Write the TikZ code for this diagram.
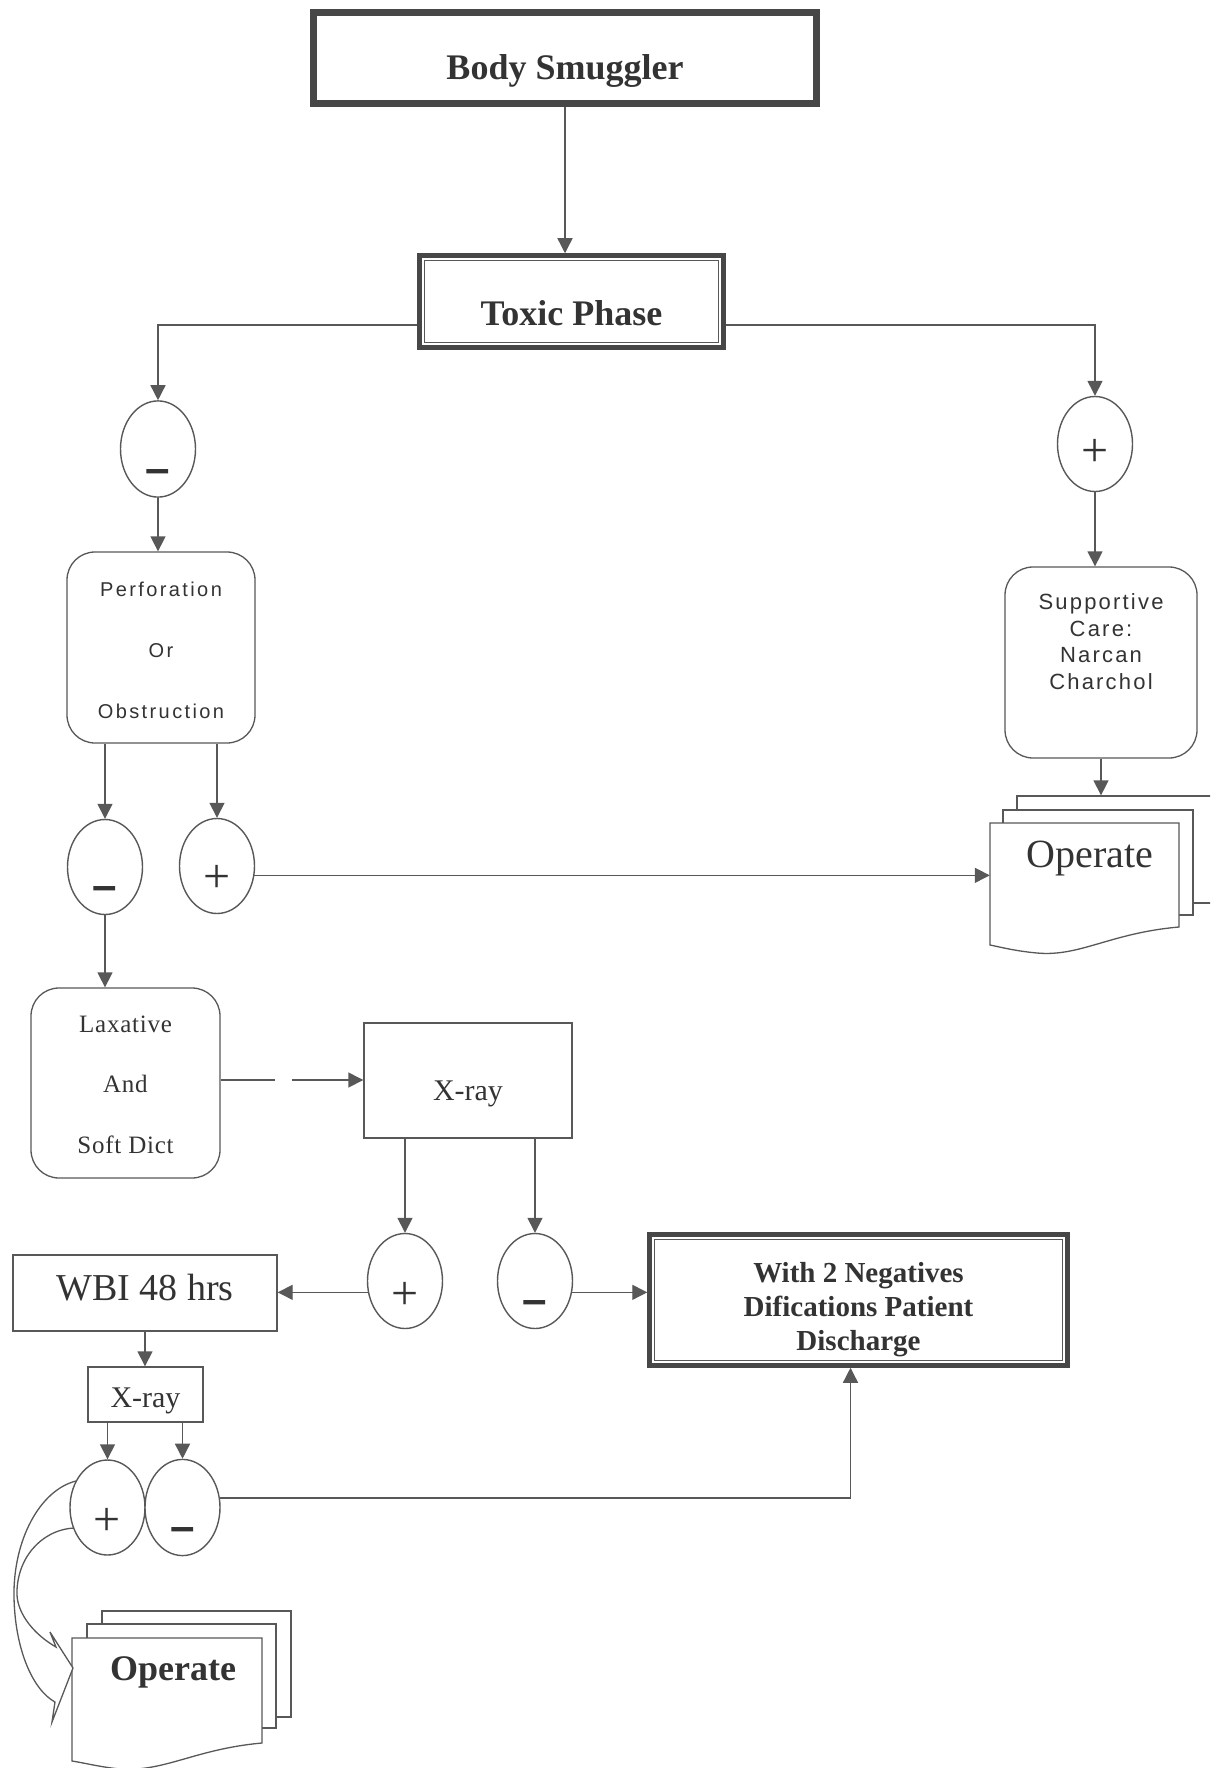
\documentclass[tikz,border=0pt]{standalone}
\usepackage{fontspec}
\setmainfont{Liberation Serif}
\newfontfamily\sfsp[LetterSpace=12]{Liberation Sans}
\newfontfamily\sfsq[LetterSpace=10]{Liberation Sans}
\newfontfamily\rmsp[LetterSpace=3]{Liberation Serif}
\newfontfamily\sgnfont{Liberation Sans}
\usetikzlibrary{arrows.meta,shapes.geometric}
\definecolor{ink}{HTML}{333333}
\definecolor{ln}{HTML}{585858}
\definecolor{frame}{HTML}{474747}
\begin{document}
\begin{tikzpicture}[x=1pt,y=-1pt,
  ln/.style={draw=ln, line width=1.4pt},
  arr/.style={ln, -{Triangle[width=15pt,length=15pt]}},
  ell/.style={ellipse, draw=ln, line width=1.4pt, fill=white, minimum width=75pt, minimum height=95pt, inner sep=0pt, text=ink, text depth=0pt},
  pl/.style={ell, font=\fontsize{48}{48}\selectfont},
  mi/.style={ell, font=\sgnfont\bfseries\fontsize{44}{44}\selectfont},
  rbox/.style={rectangle, rounded corners=28pt, draw=ln, line width=1.3pt, fill=white, inner sep=0pt, text=ink, align=center},
  sbox/.style={rectangle, draw=ln, line width=1.4pt, fill=white, inner sep=0pt, text=ink},
  framebox/.style={rectangle, draw=frame, inner sep=0pt, text=ink, fill=white},
  sheet/.style={rectangle, draw=ln, line width=1.3pt, fill=white, inner sep=0pt},
  docpath/.style={draw=ln, line width=1.3pt, fill=white},
]
\fill[white] (0,0) rectangle (1210,1768);
\clip (0,0) rectangle (1210,1768);

% ---- top boxes
\node[framebox, line width=7pt, minimum width=503pt, minimum height=91pt,
      font=\bfseries\fontsize{36}{40}\selectfont, text height=44pt, text depth=0pt] (bs) at (565,58) {Body Smuggler};
\node[framebox, line width=4.5pt, minimum width=304pt, minimum height=92pt,
      font=\bfseries\fontsize{36}{40}\selectfont, text height=47pt, text depth=0pt] (tp) at (571.5,301.5) {Toxic Phase};
\draw[ln, line width=1.2pt] ([shift={(7,7)}]tp.north west) rectangle ([shift={(-7,-7)}]tp.south east);

% ---- first decision ellipses
\node[mi, text height=68pt] (m1) at (158,449) {–};
\node[pl, text height=44pt] (p1) at (1095,444) {+};

% ---- rounded boxes
\node[rbox, minimum width=188pt, minimum height=191pt, font=\sfsp\fontsize{20}{61}\selectfont,
      text height=141pt, text depth=0pt] (pf) at (161,647.5) {Perforation\\Or\\Obstruction};
\node[rbox, minimum width=192pt, minimum height=191pt, font=\sfsq\fontsize{22}{26.5}\selectfont,
      text height=100pt, text depth=47pt] (sc) at (1101,662.5) {Supportive\\Care:\\Narcan\\Charchol};

% ---- right Operate stack
\node[sheet, minimum width=205pt, minimum height=107pt] (op1c) at (1119.5,849.5) {};
\node[sheet, minimum width=190pt, minimum height=105pt] (op1b) at (1098,862.5) {};
\path[docpath] (990,823) -- (1179,823) -- (1179,927)
   .. controls (1110,933) and (1080,957) .. (1037,953)
   .. controls (1015,951) and (1000,947) .. (990,945) -- cycle;
\node[inner sep=0pt, minimum width=200pt, minimum height=104pt, text=ink,
      font=\fontsize{40}{44}\selectfont, text height=26pt, text depth=42pt] (op1) at (1090,875) {Operate};

% ---- second row ellipses
\node[mi, text height=66pt] (m2) at (105,867) {–};
\node[pl, text height=52pt] (p2) at (217,866) {+};

\node[rbox, minimum width=189pt, minimum height=190pt, font=\rmsp\fontsize{25}{60.5}\selectfont,
      text height=140pt, text depth=0pt] (lax) at (125.5,1083) {Laxative\\And\hspace*{14pt}\\Soft Dict};
\node[sbox, minimum width=208pt, minimum height=115pt, font=\fontsize{30}{34}\selectfont,
      text height=39pt, text depth=0pt] (xr) at (468,1080.5) {X-ray};

\node[pl, text height=56pt] (p3) at (405,1281) {+};
\node[mi, text height=66pt] (m3) at (535,1281) {–};

\node[sbox, minimum width=264pt, minimum height=76pt, font=\fontsize{38}{40}\selectfont,
      text height=26pt, text depth=12pt] (wbi) at (145,1293) {WBI 48 hrs};
\node[framebox, line width=4.5pt, minimum width=418pt, minimum height=131pt, align=center,
      font=\bfseries\fontsize{29}{34}\selectfont, text height=108pt, text depth=8pt] (dis) at (858.5,1300)
      {With 2 Negatives\\Difications Patient\\Discharge};
\draw[ln, line width=1.2pt] ([shift={(7,7)}]dis.north west) rectangle ([shift={(-7,-7)}]dis.south east);

\node[sbox, minimum width=115pt, minimum height=55pt, font=\fontsize{30}{34}\selectfont,
      text height=25pt, text depth=0pt] (xr2) at (145.5,1394.5) {X-ray};

% ---- bottom Operate stack
\node[sheet, minimum width=189pt, minimum height=106pt] (op2c) at (196.5,1664) {};
\node[sheet, minimum width=189pt, minimum height=104pt] (op2b) at (181.5,1676) {};
\path[docpath] (72,1638) -- (262,1638) -- (262,1743)
   .. controls (195,1749) and (165,1772) .. (120,1769)
   .. controls (100,1767) and (85,1763) .. (72,1761) -- cycle;
\node[inner sep=0pt, minimum width=202pt, minimum height=104pt, text=ink,
      font=\bfseries\fontsize{36}{40}\selectfont, text height=25pt, text depth=45pt] (op2) at (173,1690) {Operate};

% ---- curved block arrow
\path[docpath] (76,1481) .. controls (40,1490) and (13,1540) .. (14,1597)
   .. controls (15,1650) and (33,1690) .. (55,1702) -- (52,1722) -- (73,1668) -- (50,1632) -- (56,1647)
   .. controls (35,1635) and (18,1615) .. (17,1595)
   .. controls (16,1560) and (40,1530) .. (74,1528);

\node[pl, text height=56pt] (p4) at (107.5,1507.5) {+};
\node[mi, text height=68pt] (m4) at (182.5,1507.5) {–};

% ---- connectors
\draw[arr] (bs.south) -- (bs.south |- tp.north);
\draw[arr] ([shift={(0,23.5)}]tp.west) -| (m1.north);
\draw[arr] ([shift={(0,23.5)}]tp.east) -| (p1.north);
\draw[arr] (m1.south) -- (m1.south |- pf.north);
\draw[arr] (p1.south) -- (p1.south |- sc.north);
\draw[arr] (sc.south) -- (sc.south |- op1c.north);
\draw[arr] (pf.south -| m2.north) -- (m2.north);
\draw[arr] (pf.south -| p2.north) -- (p2.north);
\draw[arr] (p2.346) -- (p2.346 -| op1.west);
\draw[arr] (m2.south) -- (m2.south |- lax.north);
\draw[arr, dash pattern=on 54pt off 17pt on 400pt] ([shift={(0,-3)}]lax.east) -- ([shift={(0,-3)}]lax.east -| xr.west);
\draw[arr] (xr.south -| p3.north) -- (p3.north);
\draw[arr] (xr.south -| m3.north) -- (m3.north);
\draw[arr] (p3.197) -- (p3.197 -| wbi.east);
\draw[arr] (m3.343) -- (m3.343 -| dis.west);
\draw[arr] (wbi.south) -- (wbi.south |- xr2.north);
\draw[arr] (xr2.south -| p4.north) -- (p4.north);
\draw[arr] (xr2.south -| m4.north) -- (m4.north);
\draw[arr] (m4.14) -| ([shift={(-8,0)}]dis.south);
\end{tikzpicture}
\end{document}
